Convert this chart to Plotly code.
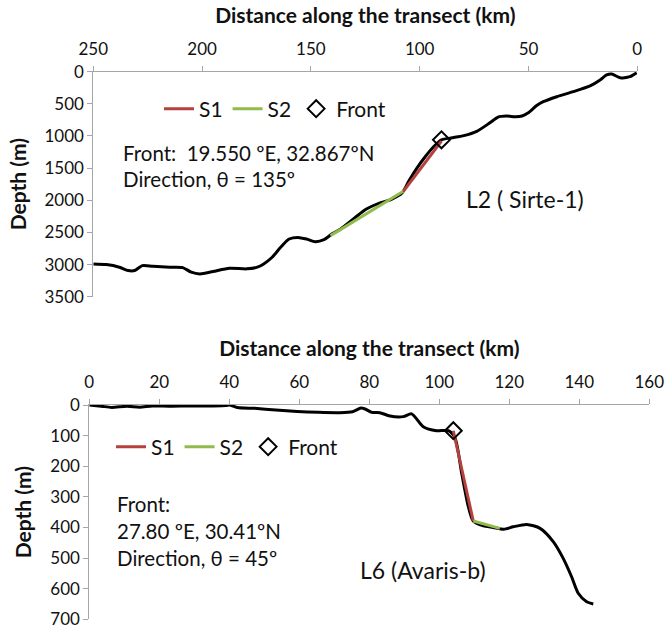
import plotly.graph_objects as go

# ---------------- L2 (Sirte-1) ----------------
l2_km = [250, 244, 238, 234, 231, 227.5, 222.6, 214.8, 208.9, 205, 201, 195, 187.4, 179.5,
         174.6, 171.7, 167.8, 163.9, 160, 156, 152, 148, 144, 140.4, 136.5, 130.6, 124.7,
         118.8, 113, 108, 105, 101.2, 97.3, 93.4, 90, 85.6, 79.7, 73.8, 67.9, 64, 60.1,
         56, 53, 50.3, 46.4, 43.2, 37, 29.4, 21.7, 17.1, 14.1, 11.8, 7.9, 3.4, 0.3]
l2_depth = [2990, 3000, 3041, 3093, 3093, 3016, 3026, 3041, 3047, 3119, 3145, 3108, 3057, 3067,
            3041, 2990, 2887, 2732, 2603, 2578, 2603, 2645, 2614, 2526, 2449, 2294, 2139,
            2047, 1985, 1882, 1701, 1495, 1315, 1160, 1060, 1031, 995, 928, 799, 706, 690,
            700, 690, 644, 531, 467, 389, 311, 222, 129, 51, 36, 93, 77, 15]
l2_s1_km = [90, 107.5]
l2_s1_depth = [1080, 1860]
l2_s2_km = [107.5, 141]
l2_s2_depth = [1860, 2550]
l2_front_km = [90]
l2_front_depth = [1060]

# ---------------- L6 (Avaris-b) ----------------
l6_km = [0, 3.4, 6.4, 10.7, 14.4, 18, 22.9, 29, 35, 39, 40, 42.3, 47.2, 53.3, 59.4, 65.5,
         71.5, 75.2, 77.6, 78.8, 80.7, 83, 85.9, 89.7, 92.1, 95.4, 99.2, 102.6, 104.5,
         106.4, 108.3, 109.7, 112.6, 115.4, 118.4, 121.1, 125, 128.8, 132.6, 135.4, 137.8,
         139.7, 142.1, 144]
l6_depth = [0, 4, 8, 4, 7, 3, 4, 3, 3, 2, 0, 8, 11, 16, 21, 24, 25, 22, 10, 13, 24, 25, 36,
            38, 29, 71, 84, 84, 108, 223, 332, 379, 395, 400, 406, 398, 390, 403, 447, 501,
            561, 615, 643, 650]
l6_s1_km = [104, 109.7]
l6_s1_depth = [84, 379]
l6_s2_km = [109.7, 117.3]
l6_s2_depth = [379, 403]
l6_front_km = [104]
l6_front_depth = [84]

x_ticks_top = [250, 200, 150, 100, 50, 0]
y_ticks_top = [0, 500, 1000, 1500, 2000, 2500, 3000, 3500]
x_ticks_bot = [0, 20, 40, 60, 80, 100, 120, 140, 160]
y_ticks_bot = [0, 100, 200, 300, 400, 500, 600, 700]

FONT = "Lato"
RED = "#b5403d"
GREEN = "#8fbc4a"
AXC = "#a6a6a6"
W, H = 667, 630

fig = go.Figure()

def add_panel(km, depth, s1k, s1d, s2k, s2d, fk, fd, xa, ya, leg):
    fig.add_trace(go.Scatter(x=km, y=depth, mode="lines",
                             line=dict(color="black", width=3, shape="spline", smoothing=0.7),
                             showlegend=False, xaxis=xa, yaxis=ya, hoverinfo="skip"))
    fig.add_trace(go.Scatter(x=s1k, y=s1d, mode="lines", name="S1",
                             line=dict(color=RED, width=3), xaxis=xa, yaxis=ya, legend=leg))
    fig.add_trace(go.Scatter(x=s2k, y=s2d, mode="lines", name="S2",
                             line=dict(color=GREEN, width=3), xaxis=xa, yaxis=ya, legend=leg))
    fig.add_trace(go.Scatter(x=fk, y=fd, mode="markers", name="Front",
                             marker=dict(symbol="diamond-open", size=13, color="black",
                                         line=dict(color="black", width=2)),
                             xaxis=xa, yaxis=ya, legend=leg))

add_panel(l2_km, l2_depth, l2_s1_km, l2_s1_depth, l2_s2_km, l2_s2_depth,
          l2_front_km, l2_front_depth, "x", "y", "legend")
add_panel(l6_km, l6_depth, l6_s1_km, l6_s1_depth, l6_s2_km, l6_s2_depth,
          l6_front_km, l6_front_depth, "x2", "y2", "legend2")

tickfont = dict(family=FONT, size=17, color="#111111")
titlefont = dict(family=FONT, size=21, color="#111111", weight="bold")

def xax(domain, rng, ticks, anchor):
    return dict(domain=domain, range=rng, tickvals=ticks, side="top", anchor=anchor,
                showline=True, linecolor=AXC, linewidth=1, ticks="outside", ticklen=5,
                tickcolor=AXC, showgrid=False, zeroline=False, tickfont=tickfont,
                ticklabelstandoff=4, automargin=False,
                title=dict(text="Distance along the transect (km)", font=titlefont, standoff=8))

def yax(domain, rng, ticks, anchor):
    return dict(domain=domain, range=rng, tickvals=ticks, anchor=anchor,
                showline=True, linecolor=AXC, linewidth=1, ticks="outside", ticklen=5,
                tickcolor=AXC, showgrid=False, zeroline=False, tickfont=tickfont,
                ticklabelstandoff=0, automargin=False,
                title=dict(text="Depth (m)", font=titlefont, standoff=12))

leg_font = dict(family=FONT, size=21, color="#111111")
fig.update_layout(
    width=W, height=H, margin=dict(l=0, r=0, t=0, b=0, autoexpand=False),
    paper_bgcolor="white", plot_bgcolor="white",
    xaxis=xax([93.3 / W, 637.3 / W], [250, 0], x_ticks_top, "y"),
    yaxis=yax([1 - 296.7 / H, 1 - 71.7 / H], [3500, 0], y_ticks_top, "x"),
    xaxis2=xax([89.3 / W, 649.3 / W], [0, 160], x_ticks_bot, "y2"),
    yaxis2=yax([1 - 619.3 / H, 1 - 405 / H], [700, 0], y_ticks_bot, "x2"),
    legend=dict(orientation="h", x=159 / W, y=1 - 109 / H, xanchor="left", yanchor="middle",
                font=leg_font, bgcolor="rgba(0,0,0,0)", itemwidth=30, tracegroupgap=0),
    legend2=dict(orientation="h", x=111 / W, y=1 - 447 / H, xanchor="left", yanchor="middle",
                 font=leg_font, bgcolor="rgba(0,0,0,0)", itemwidth=30, tracegroupgap=0),
    showlegend=True,
)

ann_font = dict(family=FONT, size=20.5, color="#111111")
big_font = dict(family=FONT, size=23, color="#111111")
def txt(x, y, s, xanchor="left", font=ann_font):
    fig.add_annotation(x=x / W, y=1 - y / H, xref="paper", yref="paper", text=s,
                       showarrow=False, xanchor=xanchor, yanchor="middle", font=font)

txt(120.7, 153, "Front:&nbsp;&nbsp;19.550 ºE, 32.867ºN")
txt(120.7, 179, "Direction, θ = 135º")
txt(525, 199, "L2 ( Sirte-1)", "center", big_font)
txt(115, 504, "Front:")
txt(115, 531, "27.80 ºE, 30.41ºN")
txt(115, 557.5, "Direction, θ = 45º")
txt(423, 570, "L6 (Avaris-b)", "center", big_font)

fig.write_html("out.html")
